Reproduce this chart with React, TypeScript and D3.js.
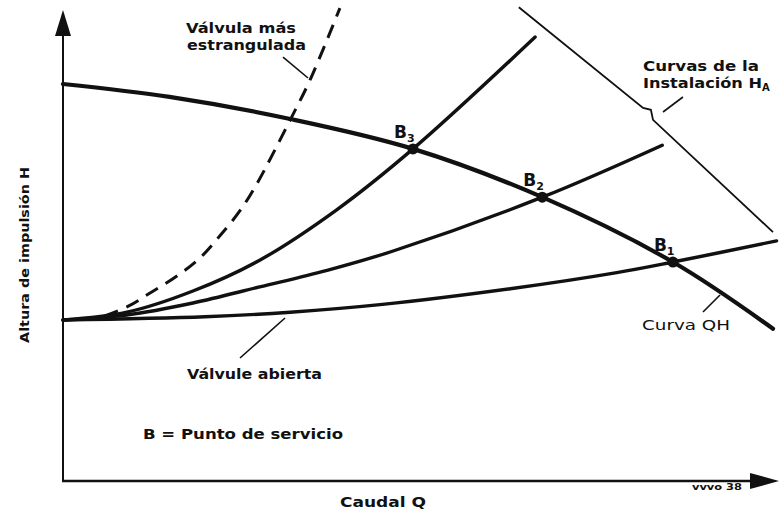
import React from "react";
import * as d3 from "d3";

// Pump characteristic (curva QH): flow Q vs head H, in % of the axis range
const pumpQ = [0, 15, 32, 49.3, 67.5, 85.9, 100];
const pumpH = [86.3, 83.5, 78.7, 72.2, 61.7, 47.6, 33.1];

// System curves (curvas de la instalación) for three valve settings
const openQ = [0, 20, 32, 45, 63, 78, 85.9, 100.5];
const openH = [35.0, 35.7, 36.7, 38.4, 41.8, 45.3, 47.6, 52.2];

const midQ = [0, 9, 18.3, 27.7, 37.2, 46.5, 67.5, 84.4];
const midH = [35.0, 36.1, 38.7, 42.2, 45.8, 50.0, 61.7, 73.0];

const highQ = [0, 9, 18.3, 27.7, 38.5, 49.3, 66.5];
const highH = [35.0, 36.7, 41.3, 48.0, 58.9, 72.2, 96.5];

// Most throttled valve (dashed)
const throttledQ = [5.9, 9.2, 12.5, 16.1, 19.3, 22.1, 24.9, 27.3, 32.0, 34.8, 39.0];
const throttledH = [35.9, 38.0, 41.1, 44.6, 48.5, 53.3, 58.7, 64.6, 78.5, 87.2, 102.8];

// Bracket line grouping the system curves, with its break mark
const bracketQ = [64.2, 81.7, 82.8, 83.1, 100];
const bracketH = [103.0, 81.1, 80.7, 78.5, 54.1];

// Operating points B1..B3 (punto de servicio)
const pointNames = ["1", "2", "3"];
const pointQ = [85.9, 67.5, 49.3];
const pointH = [47.6, 61.7, 72.2];

type Pt = [number, number];
const zip = (qs: number[], hs: number[]): Pt[] => qs.map((q, i) => [q, hs[i]]);

export default function App() {
  const W = 781;
  const H = 512;
  const x = d3.scaleLinear().domain([0, 100]).range([63, 773]);
  const y = d3.scaleLinear().domain([0, 100]).range([481, 21]);

  const smooth = d3
    .line<Pt>()
    .x((d) => x(d[0]))
    .y((d) => y(d[1]))
    .curve(d3.curveCatmullRom.alpha(0.5));
  const straight = d3
    .line<Pt>()
    .x((d) => x(d[0]))
    .y((d) => y(d[1]));

  const font = "'DejaVu Sans', 'Liberation Sans', Arial, sans-serif";
  const ink = "#111";

  const leader = (q1: number, h1: number, q2: number, h2: number, key: string) => (
    <line key={key} x1={x(q1)} y1={y(h1)} x2={x(q2)} y2={y(h2)} stroke={ink} strokeWidth={1.6} />
  );

  const x0 = x(0);
  const yBase = y(0);

  return (
    <svg
      width={W}
      height={H}
      viewBox={`0 0 ${W} ${H}`}
      style={{ position: "absolute", left: 0, top: 0, background: "#fff" }}
    >
      <rect width={W} height={H} fill="#fff" />

      {/* axes with arrowheads */}
      <line x1={x0} y1={yBase + 1} x2={x0} y2={30} stroke={ink} strokeWidth={2} />
      <path d={`M${x0},10 L${x0 - 8},36 L${x0 + 8},36 Z`} fill={ink} />
      <line x1={x0 - 1} y1={yBase} x2={755} y2={yBase} stroke={ink} strokeWidth={2.6} />
      <path d={`M779,${yBase} L750,${yBase - 8} L750,${yBase + 8} Z`} fill={ink} />

      {/* system curves */}
      <path d={smooth(zip(openQ, openH)) || ""} fill="none" stroke={ink} strokeWidth={3.4} strokeLinecap="round" />
      <path d={smooth(zip(midQ, midH)) || ""} fill="none" stroke={ink} strokeWidth={3.4} strokeLinecap="round" />
      <path d={smooth(zip(highQ, highH)) || ""} fill="none" stroke={ink} strokeWidth={3.4} strokeLinecap="round" />
      <path
        d={smooth(zip(throttledQ, throttledH)) || ""}
        fill="none"
        stroke={ink}
        strokeWidth={3}
        strokeDasharray="14 9"
      />

      {/* pump curve */}
      <path d={smooth(zip(pumpQ, pumpH)) || ""} fill="none" stroke={ink} strokeWidth={4.2} strokeLinecap="round" />

      {/* bracket line */}
      <path d={straight(zip(bracketQ, bracketH)) || ""} fill="none" stroke={ink} strokeWidth={1.8} />

      {/* operating points */}
      {pointQ.map((q, i) => (
        <g key={pointNames[i]}>
          <circle cx={x(q)} cy={y(pointH[i])} r={5.5} fill={ink} />
          <text
            x={x(q) - 19}
            y={y(pointH[i]) - 11}
            fontFamily={font}
            fontWeight="bold"
            fontSize={17}
            fill={ink}
          >
            B
            <tspan fontSize={11} dy={4}>
              {pointNames[i]}
            </tspan>
          </text>
        </g>
      ))}

      {/* leader lines */}
      {leader(30.99, 92.17, 34.51, 87.61, "l1")}
      {leader(84.51, 80.22, 87.32, 83.48, "l2")}
      {leader(90.14, 36.74, 92.54, 40.43, "l3")}
      {leader(24.93, 26.74, 31.27, 35.43, "l4")}

      {/* annotations */}
      <g fontFamily={font} fontWeight="bold" fill={ink}>
        <text x={186} y={33} fontSize={13.5} textLength={110} lengthAdjust="spacingAndGlyphs">
          Válvula más
        </text>
        <text x={187} y={50} fontSize={13.5} textLength={119} lengthAdjust="spacingAndGlyphs">
          estrangulada
        </text>
        <text x={643} y={71} fontSize={13.5} textLength={116} lengthAdjust="spacingAndGlyphs">
          Curvas de la
        </text>
        <text x={643} y={88} fontSize={13.5}>
          <tspan textLength={119} lengthAdjust="spacingAndGlyphs">Instalación H</tspan>
          <tspan fontSize={10} dy={3}>A</tspan>
        </text>
        <text x={642} y={330} fontSize={13.5} textLength={88} lengthAdjust="spacingAndGlyphs" fontWeight="normal">
          Curva QH
        </text>
        <text x={187} y={379} fontSize={13.5} textLength={135} lengthAdjust="spacingAndGlyphs">
          Válvule abierta
        </text>
        <text x={143} y={439} fontSize={13.5} textLength={200} lengthAdjust="spacingAndGlyphs">
          B = Punto de servicio
        </text>
        <text x={340} y={507} fontSize={14} textLength={86} lengthAdjust="spacingAndGlyphs">
          Caudal Q
        </text>
        <text x={692} y={490} fontSize={8} textLength={50} lengthAdjust="spacingAndGlyphs">
          vvvo 38
        </text>
        <text
          transform="translate(29,255) rotate(-90)"
          textAnchor="middle"
          fontSize={12.5}
          textLength={176}
          lengthAdjust="spacingAndGlyphs"
        >
          Altura de impulsión H
        </text>
      </g>
    </svg>
  );
}
